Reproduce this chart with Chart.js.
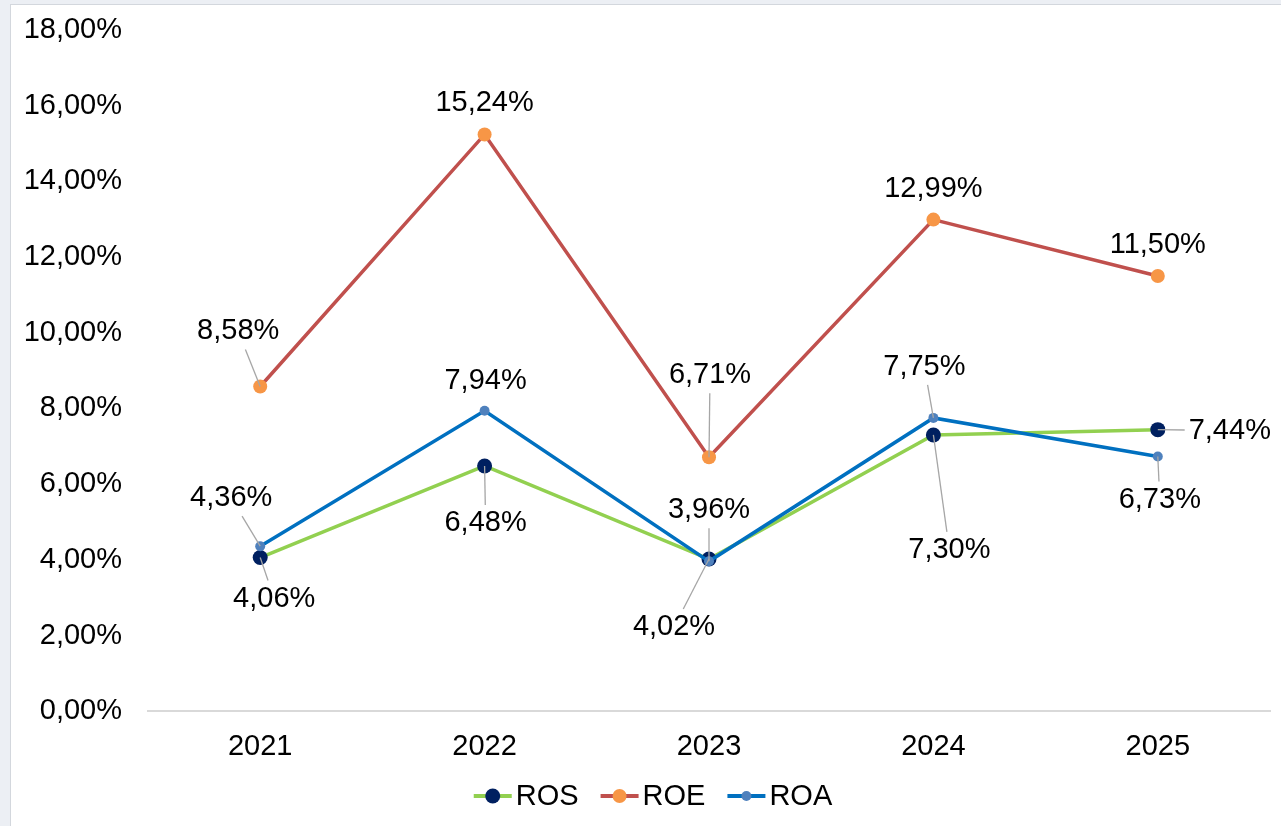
<!DOCTYPE html>
<html>
<head>
<meta charset="utf-8">
<script src="https://cdn.jsdelivr.net/npm/chart.js@4.4.1/dist/chart.umd.min.js"></script>
<style>
  body { margin: 0; background: #eceff4; width: 1281px; height: 826px; overflow: hidden; position: relative; }
  #box { position: absolute; left: 10px; top: 4px; width: 1280px; height: 830px; background: #fff; border: 1px solid #d3d7dd; }
  #myChart { position: absolute; left: 0; top: 0; }
</style>
</head>
<body>
<div id="box"></div>
<canvas id="myChart" width="1281" height="826"></canvas>
<script>
var anos = ['2021', '2022', '2023', '2024', '2025'];
var ros = [4.06, 6.48, 4.02, 7.30, 7.44];
var roe = [8.58, 15.24, 6.71, 12.99, 11.50];
var roa = [4.36, 7.94, 3.96, 7.75, 6.73];

var fonte = '"Liberation Sans", Arial, sans-serif';
var tam = 29;

function fmt(v) {
  return v.toFixed(2).replace('.', ',') + '%';
}

// deslocamento do rotulo em relacao ao ponto (dx, dy, linha guia)
var rotulos = {
  ROS: [[14, 41, 1], [1, 57, 1], [-35, 68, 1], [16, 115, 1], [72, 1, 1]],
  ROE: [[-22, -55, 1], [0, -31, 0], [1, -82, 1], [0, -31, 0], [0, -31, 0]],
  ROA: [[-29, -48, 1], [1, -30, 0], [0, -51, 1], [-9, -51, 1], [2, 43, 1]]
};

var pluginRotulos = {
  id: 'rotulos',
  afterDatasetsDraw: function(chart) {
    var ctx = chart.ctx;
    ctx.save();
    ctx.font = tam + 'px ' + fonte;
    ctx.textAlign = 'center';
    ctx.textBaseline = 'middle';
    chart.data.datasets.forEach(function(ds, i) {
      var meta = chart.getDatasetMeta(i);
      meta.data.forEach(function(pt, j) {
        var o = rotulos[ds.label][j];
        var txt = fmt(ds.data[j]);
        var lx = pt.x + o[0], ly = pt.y + o[1];
        if (o[2]) {
          var hw = ctx.measureText(txt).width / 2 + 4;
          var hh = 18;
          var vx = pt.x - lx, vy = pt.y - ly;
          var t = Math.min(vx !== 0 ? hw / Math.abs(vx) : 99, vy !== 0 ? hh / Math.abs(vy) : 99);
          if (t < 1) {
            ctx.strokeStyle = '#a6a6a6';
            ctx.lineWidth = 1.3;
            ctx.beginPath();
            ctx.moveTo(lx + vx * t, ly + vy * t);
            ctx.lineTo(pt.x, pt.y);
            ctx.stroke();
          }
        }
        ctx.fillStyle = '#000';
        ctx.fillText(txt, lx, ly);
      });
    });
    ctx.restore();
  }
};

var pluginLegenda = {
  id: 'legenda',
  afterDraw: function(chart) {
    var ctx = chart.ctx;
    ctx.save();
    ctx.font = tam + 'px ' + fonte;
    ctx.textBaseline = 'middle';
    var symW = 38, gap = 4, entre = 22;
    var total = 0;
    chart.data.datasets.forEach(function(ds, i) {
      total += symW + gap + ctx.measureText(ds.label).width + (i > 0 ? entre : 0);
    });
    var x = 653 - total / 2, y = 796;
    chart.data.datasets.forEach(function(ds, i) {
      if (i > 0) x += entre;
      ctx.strokeStyle = ds.borderColor;
      ctx.lineWidth = 4;
      ctx.beginPath();
      ctx.moveTo(x, y);
      ctx.lineTo(x + symW, y);
      ctx.stroke();
      ctx.fillStyle = ds.pointBackgroundColor;
      ctx.beginPath();
      ctx.arc(x + symW / 2, y, ds.pointRadius, 0, Math.PI * 2);
      ctx.fill();
      x += symW + gap;
      ctx.fillStyle = '#000';
      ctx.fillText(ds.label, x, y + 1);
      x += ctx.measureText(ds.label).width;
    });
    ctx.restore();
  }
};

var ctx = document.getElementById('myChart').getContext('2d');

var chart = new Chart(ctx, {
  type: 'line',
  data: {
    labels: anos,
    datasets: [{
      label: 'ROS',
      data: ros,
      borderColor: '#92d050',
      pointBackgroundColor: '#002060',
      pointBorderColor: '#002060',
      pointRadius: 7.5,
      order: 3
    }, {
      label: 'ROE',
      data: roe,
      borderColor: '#c0504d',
      pointBackgroundColor: '#f79646',
      pointBorderColor: '#f79646',
      pointRadius: 7,
      order: 2
    }, {
      label: 'ROA',
      data: roa,
      borderColor: '#0070c0',
      pointBackgroundColor: '#4f81bd',
      pointBorderColor: '#4f81bd',
      pointRadius: 5,
      order: 1
    }]
  },
  options: {
    responsive: false,
    animation: false,
    elements: {
      line: { borderWidth: 3.5, tension: 0, fill: false },
      point: { borderWidth: 0, hoverRadius: 7 }
    },
    layout: { padding: { left: 10, top: 30, right: 11, bottom: 44 } },
    plugins: {
      legend: { display: false },
      tooltip: { enabled: false }
    },
    scales: {
      x: {
        offset: true,
        grid: { display: false, drawTicks: false },
        border: { color: '#d9d9d9', width: 2 },
        ticks: { color: '#000', padding: 18, font: { family: fonte, size: tam } }
      },
      y: {
        min: 0,
        max: 18,
        grid: { display: false, drawTicks: false },
        border: { display: false },
        ticks: {
          stepSize: 2,
          color: '#000',
          padding: 26,
          font: { family: fonte, size: tam },
          callback: function(v) { return fmt(v); }
        },
        afterFit: function(scale) {
          scale.width = 138;
          scale.paddingTop = 0;
        }
      }
    }
  },
  plugins: [pluginRotulos, pluginLegenda]
});
</script>
</body>
</html>
